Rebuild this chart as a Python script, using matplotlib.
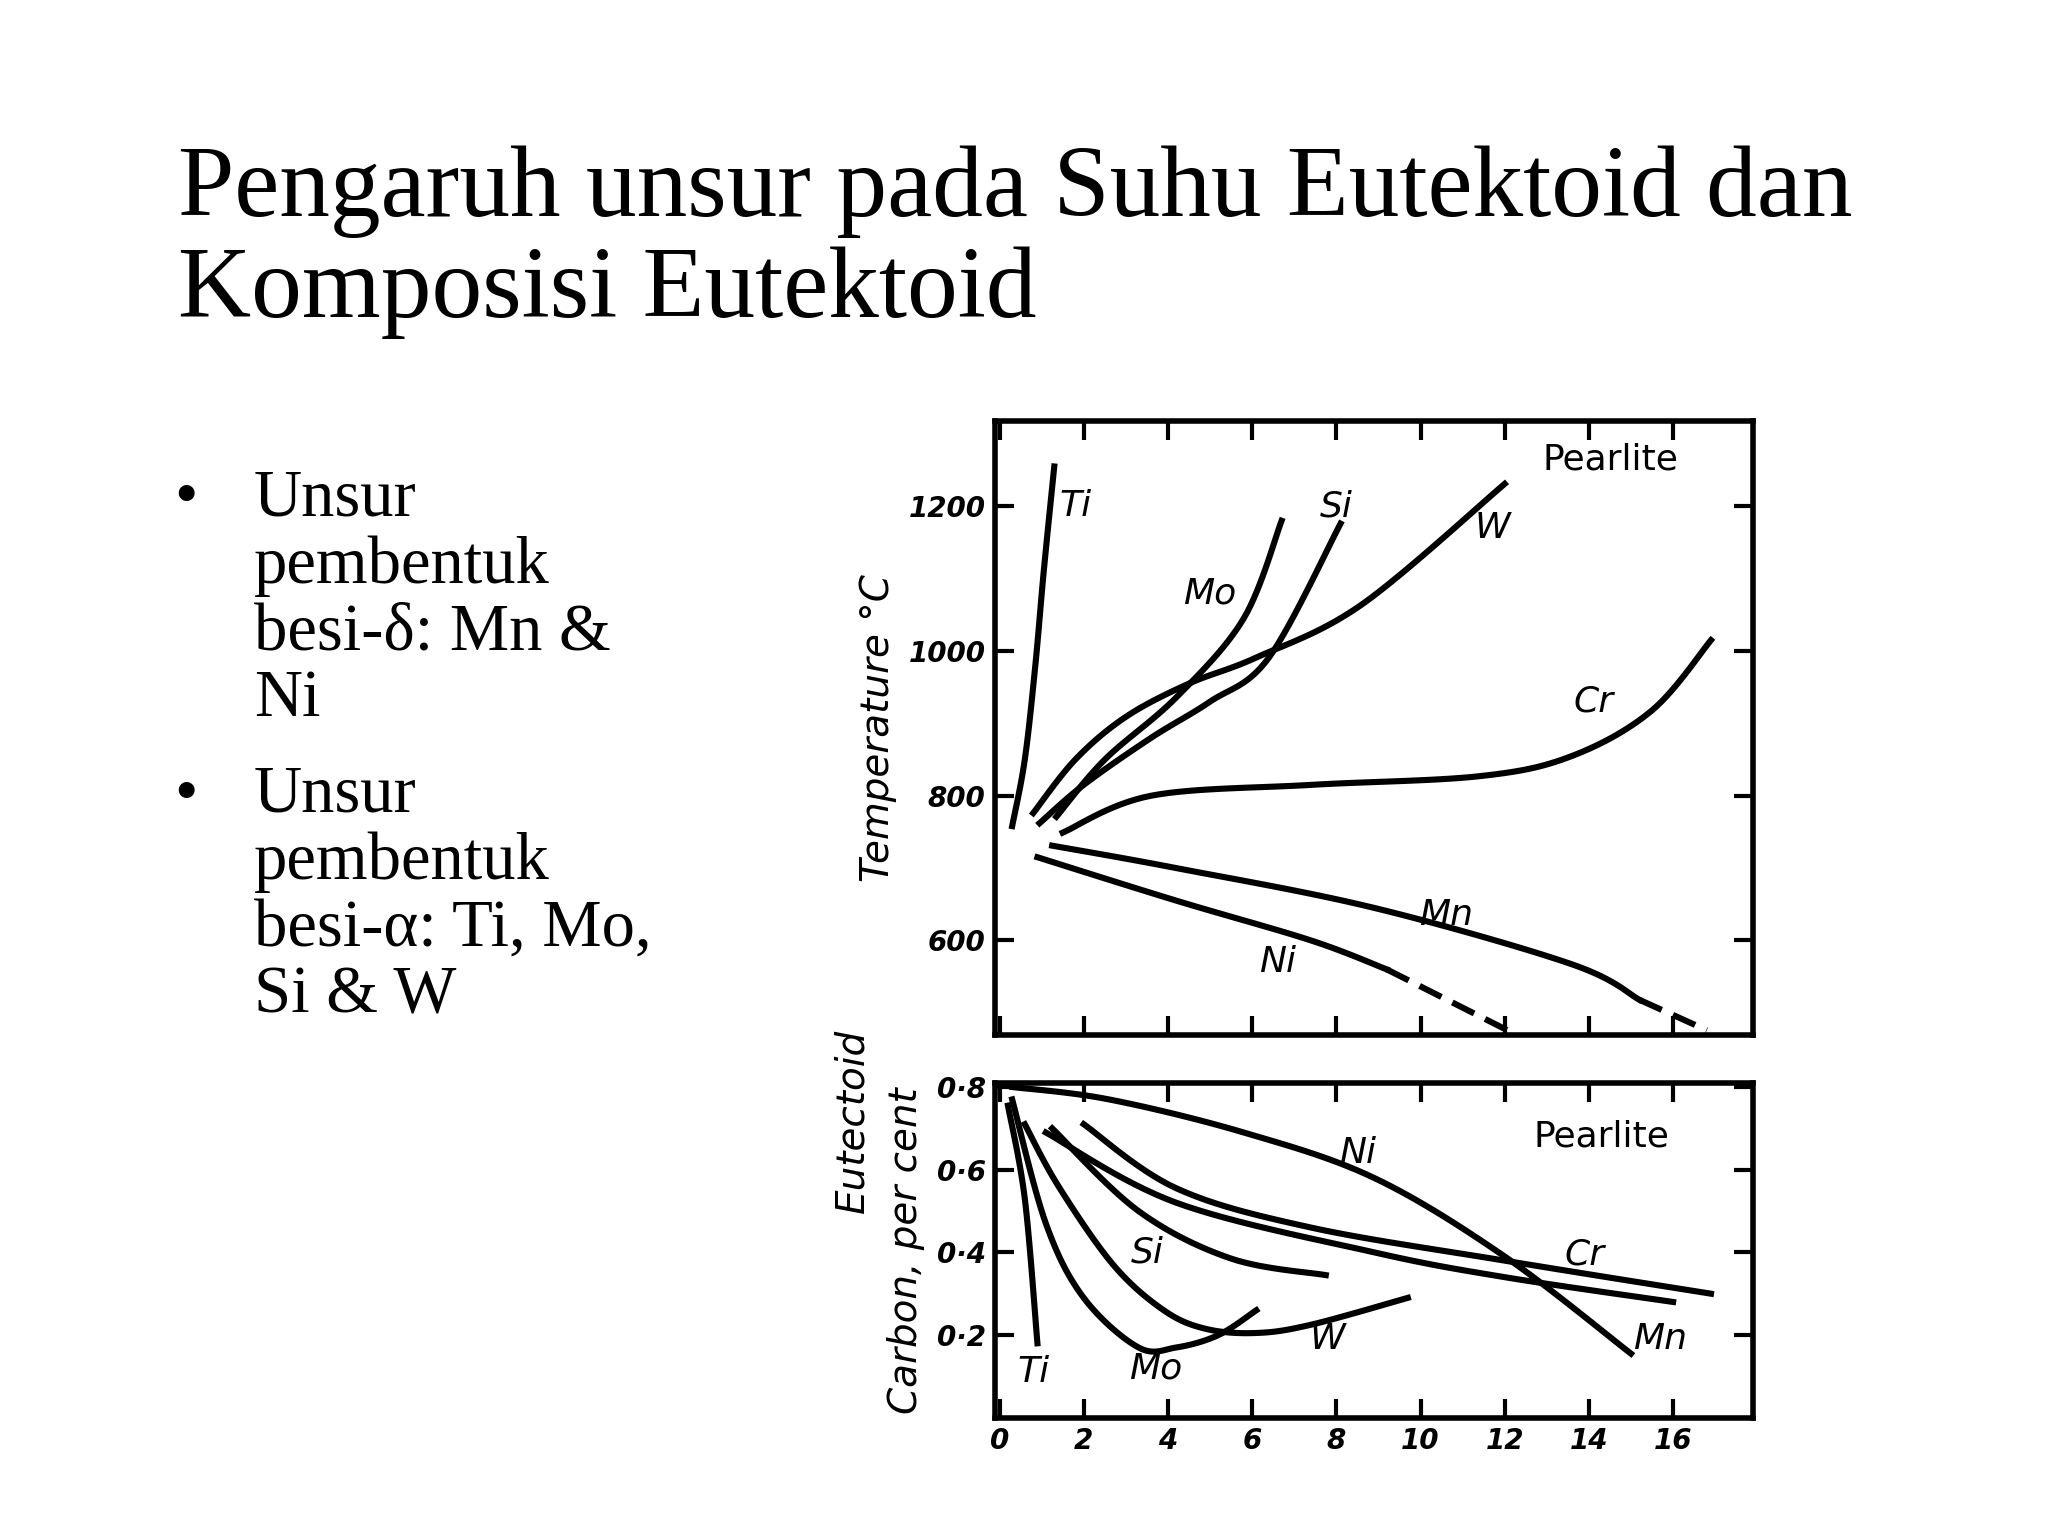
import matplotlib
matplotlib.use("Agg")
import matplotlib.pyplot as plt
import numpy as np

# ---- data: top panel (eutectoid temperature, deg C) ----
ti_t_x = [0.3, 0.6, 0.85, 1.05, 1.3]; ti_t_y = [758, 850, 980, 1110, 1255]
mo_t_x = [1.35, 2.5, 4.2, 5.8, 6.7]; mo_t_y = [771, 850, 936, 1045, 1180]
si_t_x = [0.95, 2.0, 3.6, 5.0, 6.4, 8.1]; si_t_y = [762, 815, 880, 930, 991, 1176]
w_t_x = [0.8, 1.8, 3.0, 4.5, 6.1, 8.6, 12.0]; w_t_y = [776, 850, 909, 955, 991, 1064, 1231]
cr_t_x = [1.5, 3.6, 7.4, 11.4, 13.6, 15.5, 16.9]; cr_t_y = [749, 800, 815, 827, 855, 918, 1015]
mn_t_x = [1.25, 4.2, 8.9, 13.6, 15.2]; mn_t_y = [731, 700, 645, 567, 518]
mn_t_dash_x = [15.2, 16.8]; mn_t_dash_y = [518, 476]
ni_t_x = [0.9, 4.2, 7.4, 9.2]; ni_t_y = [715, 655, 600, 560]
ni_t_dash_x = [9.2, 12.3]; ni_t_dash_y = [560, 469]

# ---- data: bottom panel (eutectoid carbon, per cent) ----
ti_c_x = [0.2, 0.6, 0.9]; ti_c_y = [0.755, 0.53, 0.18]
mo_c_x = [0.3, 1.1, 2.0, 3.3, 4.2, 5.2, 6.1]; mo_c_y = [0.77, 0.47, 0.29, 0.17, 0.17, 0.2, 0.26]
w_c_x = [0.6, 1.4, 2.7, 3.9, 4.9, 6.1, 7.4, 9.7]; w_c_y = [0.71, 0.56, 0.37, 0.26, 0.215, 0.205, 0.225, 0.29]
si_c_x = [1.25, 3.3, 5.5, 7.75]; si_c_y = [0.70, 0.50, 0.385, 0.345]
cr_c_x = [2.0, 4.2, 7.4, 12.0, 16.9]; cr_c_y = [0.71, 0.555, 0.46, 0.38, 0.30]
mn_c_x = [1.1, 4.2, 8.9, 12.0, 16.0]; mn_c_y = [0.69, 0.52, 0.40, 0.34, 0.28]
ni_c_x = [0.3, 2.6, 5.8, 8.9, 12.0, 15.0]; ni_c_y = [0.80, 0.77, 0.69, 0.58, 0.39, 0.155]

x_ticks = [0, 2, 4, 6, 8, 10, 12, 14, 16]
t_ticks = [600, 800, 1000, 1200]
c_ticks = [0.2, 0.4, 0.6, 0.8]
c_ticklabels = ["0·2", "0·4", "0·6", "0·8"]

title = "Pengaruh unsur pada Suhu Eutektoid dan\nKomposisi Eutektoid"
bullets = ["Unsur\npembentuk\nbesi-δ: Mn &\nNi", "Unsur\npembentuk\nbesi-α: Ti, Mo,\nSi & W"]

def smooth(x, y):
    pts = np.column_stack([np.asarray(x, float), np.asarray(y, float)])
    p = np.vstack([pts[0], pts, pts[-1]]); out = []
    for i in range(1, len(p) - 2):
        p0, p1, p2, p3 = p[i-1], p[i], p[i+1], p[i+2]
        for s in np.linspace(0, 1, 15, endpoint=False):
            out.append(0.5*((2*p1) + (-p0+p2)*s + (2*p0-5*p1+4*p2-p3)*s**2 + (-p0+3*p1-3*p2+p3)*s**3))
    out.append(pts[-1]); out = np.array(out)
    return out[:, 0], out[:, 1]

fig = plt.figure(figsize=(10.24, 7.68), dpi=200)
serif = ["Liberation Serif", "DejaVu Serif"]
fig.text(0.087, 0.905, title, fontsize=36.5, family=serif, va="top", linespacing=1.12)
fig.text(0.085, 0.695, "•", fontsize=24, family=serif, va="top")
fig.text(0.124, 0.695, bullets[0], fontsize=24, family=serif, va="top", linespacing=1.12)
fig.text(0.085, 0.502, "•", fontsize=24, family=serif, va="top")
fig.text(0.124, 0.502, bullets[1], fontsize=24, family=serif, va="top", linespacing=1.12)

lab = dict(fontsize=13, style="italic", family="DejaVu Sans")
tick_font = dict(fontsize=10, style="italic", weight="bold")

ax1 = fig.add_axes([0.486, 0.326, 0.370, 0.400])
ax2 = fig.add_axes([0.486, 0.077, 0.370, 0.218])
for ax in (ax1, ax2):
    ax.set_xlim(-0.1, 17.9)
    ax.set_xticks(x_ticks)
    for s in ax.spines.values():
        s.set_linewidth(2)
    ax.tick_params(direction="in", length=7, width=1.5, top=True, right=True)

lw = 2.2
for xs, ys in [(ti_t_x, ti_t_y), (mo_t_x, mo_t_y), (si_t_x, si_t_y), (w_t_x, w_t_y),
               (cr_t_x, cr_t_y), (mn_t_x, mn_t_y), (ni_t_x, ni_t_y)]:
    ax1.plot(*smooth(xs, ys), color="black", lw=lw)
ax1.plot(mn_t_dash_x, mn_t_dash_y, color="black", lw=lw, ls=(0, (4, 2)))
ax1.plot(ni_t_dash_x, ni_t_dash_y, color="black", lw=lw, ls=(0, (4, 2)))
ax1.set_ylim(469, 1318)
ax1.set_yticks(t_ticks)
ax1.set_yticklabels([str(v) for v in t_ticks], **tick_font)
ax1.set_xticklabels([])
ax1.set_ylabel("Temperature °C", fontsize=14, style="italic")
for txt, x, y in [("Ti", 1.8, 1200), ("Mo", 5.0, 1080), ("Si", 8.0, 1200), ("W", 11.7, 1170),
                  ("Cr", 14.1, 930), ("Mn", 10.6, 635), ("Ni", 6.6, 570)]:
    ax1.text(x, y, txt, ha="center", va="center", **lab)
ax1.text(14.5, 1265, "Pearlite", ha="center", va="center", fontsize=13)

for xs, ys in [(ti_c_x, ti_c_y), (mo_c_x, mo_c_y), (w_c_x, w_c_y), (si_c_x, si_c_y),
               (cr_c_x, cr_c_y), (mn_c_x, mn_c_y), (ni_c_x, ni_c_y)]:
    ax2.plot(*smooth(xs, ys), color="black", lw=lw)
ax2.set_ylim(0, 0.81)
ax2.set_yticks(c_ticks)
ax2.set_yticklabels(c_ticklabels, **tick_font)
ax2.set_xticklabels([str(v) for v in x_ticks], **tick_font)
ax2.set_ylabel("Carbon, per cent", fontsize=14, style="italic")
fig.text(0.416, 0.27, "Eutectoid", rotation=90, fontsize=14, style="italic", ha="center", va="center")
for txt, x, y in [("Ti", 0.8, 0.11), ("Mo", 3.7, 0.12), ("Si", 3.5, 0.40), ("W", 7.8, 0.19),
                  ("Ni", 8.5, 0.64), ("Cr", 13.9, 0.395), ("Mn", 15.7, 0.19)]:
    ax2.text(x, y, txt, ha="center", va="center", **lab)
ax2.text(14.3, 0.68, "Pearlite", ha="center", va="center", fontsize=13)

fig.savefig("out.png", dpi=200)
